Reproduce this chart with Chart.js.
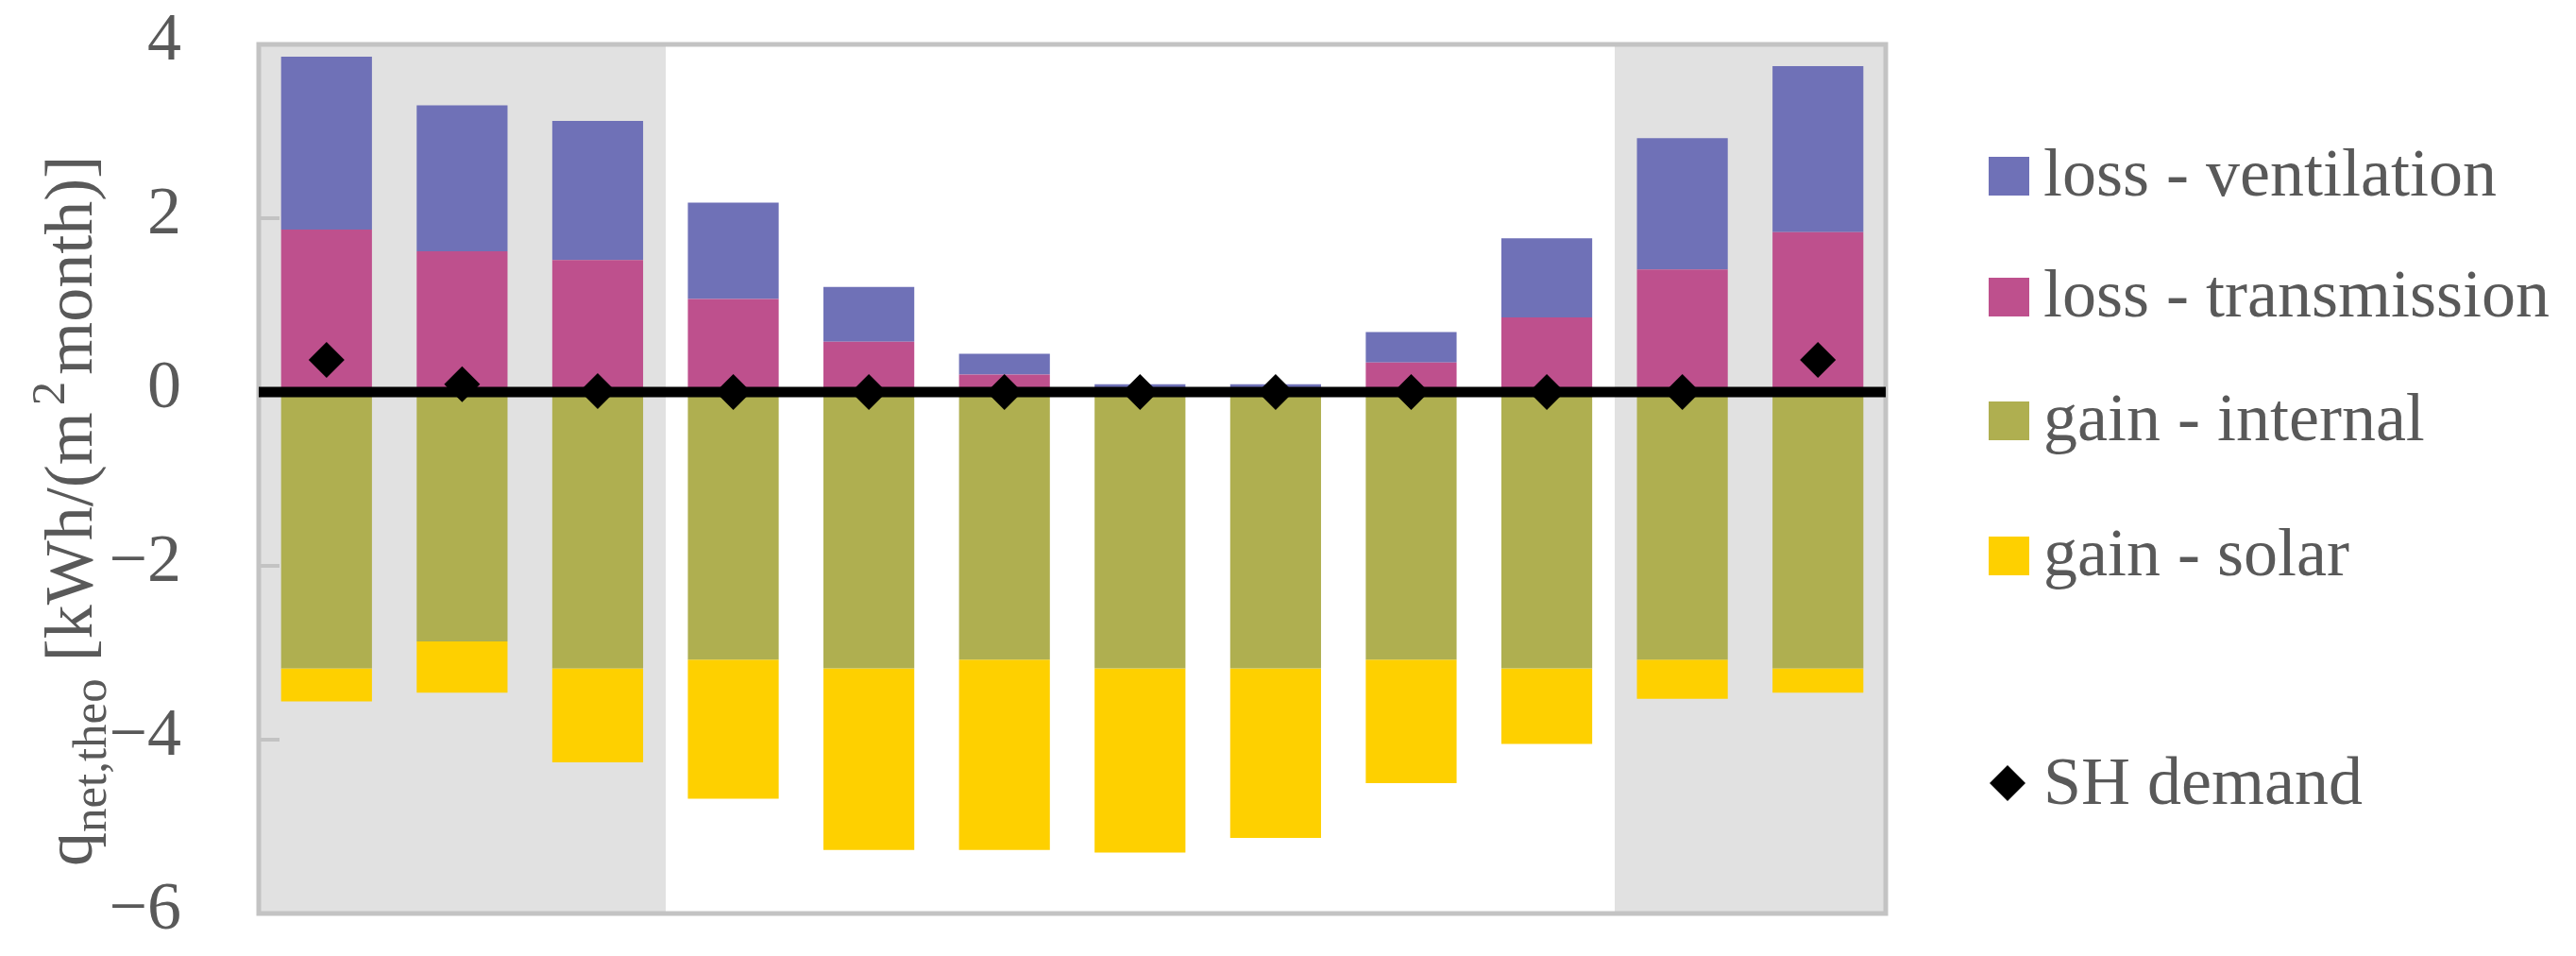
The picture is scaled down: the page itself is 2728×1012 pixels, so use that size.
<!DOCTYPE html>
<html>
<head>
<meta charset="utf-8">
<title>Monthly heat balance</title>
<script src="https://cdn.jsdelivr.net/npm/chart.js@4.4.1/dist/chart.umd.min.js"></script>
<style>
  html, body { margin: 0; padding: 0; background: #fff; }
  #wrap { position: relative; width: 2728px; height: 1012px; }
</style>
</head>
<body>
<div id="wrap"><canvas id="balanceChart" width="2728" height="1012"></canvas></div>
<script>
// monthly values, kWh/(m2 month)
const months = ['Jan', 'Feb', 'Mar', 'Apr', 'May', 'Jun', 'Jul', 'Aug', 'Sep', 'Oct', 'Nov', 'Dec'];
const lossTransmission = [1.87, 1.62, 1.52, 1.07, 0.58, 0.20, 0.04, 0.04, 0.34, 0.86, 1.41, 1.84];
const lossVentilation = [1.99, 1.68, 1.60, 1.11, 0.63, 0.24, 0.05, 0.05, 0.35, 0.91, 1.51, 1.91];
const gainInternal = [-3.18, -2.87, -3.18, -3.08, -3.18, -3.08, -3.18, -3.18, -3.08, -3.18, -3.08, -3.18];
const gainSolar = [-0.38, -0.59, -1.08, -1.60, -2.09, -2.19, -2.12, -1.95, -1.42, -0.87, -0.45, -0.28];
const shDemand = [0.37, 0.09, 0.01, 0, 0, 0, 0, 0, 0, 0, 0, 0.37];
const heatingSeason = ['Jan', 'Feb', 'Mar', 'Nov', 'Dec'];

const yMin = -6, yMax = 4, yStep = 2;
const yTitle = [
    { t: 'q' },
    { t: 'net,theo', sub: true },
    { t: ' [kWh/(m' },
    { t: '2', sup: true },
    { t: 'month)]' }
];

const legendItems = [
    { label: 'loss - ventilation', color: '#6f71b7' },
    { label: 'loss - transmission', color: '#be508d' },
    { label: 'gain - internal', color: '#afaf50' },
    { label: 'gain - solar', color: '#fed000' },
    { label: 'SH demand', color: '#000000', diamond: true }
];

const textColor = '#595959';
const frameColor = '#c3c3c3';
const serif = "'Liberation Serif', 'DejaVu Serif', serif";

// grey background behind the heating season months, frame, y ticks
const seasonBands = {
    id: 'seasonBands',
    beforeDatasetsDraw(chart) {
        const { ctx, chartArea, scales } = chart;
        const half = chartArea.width / months.length / 2;
        ctx.save();
        ctx.fillStyle = '#e1e1e1';
        months.forEach((m, i) => {
            if (!heatingSeason.includes(m)) return;
            const c = scales.x.getPixelForValue(i);
            const x0 = Math.round(c - half), x1 = Math.round(c + half);
            ctx.fillRect(x0, chartArea.top, x1 - x0, chartArea.height);
        });
        ctx.strokeStyle = frameColor;
        ctx.lineWidth = 5;
        ctx.strokeRect(chartArea.left, chartArea.top, chartArea.width, chartArea.height);
        ctx.lineWidth = 4;
        ctx.fillStyle = textColor;
        ctx.font = '72px ' + serif;
        ctx.textAlign = 'right';
        ctx.textBaseline = 'middle';
        scales.y.ticks.forEach(t => {
            const y = scales.y.getPixelForValue(t.value);
            ctx.beginPath();
            ctx.moveTo(chartArea.left, y);
            ctx.lineTo(chartArea.left + 22, y);
            ctx.stroke();
            const lbl = t.value < 0 ? '\u2212' + Math.abs(t.value) : String(t.value);
            ctx.fillText(lbl, 192, y - 3);
        });
        ctx.restore();
    },
    afterDatasetDraw(chart, args) {
        // heavy zero line goes over the bars, under the diamonds
        if (args.index !== 0) return;
        const { ctx, chartArea, scales } = chart;
        const y = scales.y.getPixelForValue(0);
        ctx.save();
        ctx.strokeStyle = '#000';
        ctx.lineWidth = 11;
        ctx.beginPath();
        ctx.moveTo(chartArea.left, y);
        ctx.lineTo(chartArea.right, y);
        ctx.stroke();
        ctx.restore();
    }
};

// rotated axis title with subscript and superscript
const axisTitle = {
    id: 'axisTitle',
    afterDraw(chart) {
        const ctx = chart.ctx;
        const size = 72, small = 51;
        const parts = yTitle.map(p => {
            const fs = (p.sub || p.sup) ? small : size;
            ctx.font = fs + 'px ' + serif;
            const gap = p.sup ? 7 : 0;
            return { ...p, fs, w: ctx.measureText(p.t).width + gap * 2, gap };
        });
        const total = parts.reduce((s, p) => s + p.w, 0);
        ctx.save();
        ctx.translate(97, 541);
        ctx.rotate(-Math.PI / 2);
        ctx.fillStyle = textColor;
        ctx.textBaseline = 'alphabetic';
        ctx.textAlign = 'left';
        let x = -total / 2;
        parts.forEach(p => {
            ctx.font = p.fs + 'px ' + serif;
            let dy = 0;
            if (p.sub) dy = 15;
            if (p.sup) dy = -29;
            ctx.fillText(p.t, x + p.gap, dy);
            x += p.w;
        });
        ctx.restore();
    }
};

// legend on the right
const sideLegend = {
    id: 'sideLegend',
    afterDraw(chart) {
        const ctx = chart.ctx;
        const baselines = [207, 335, 466, 609, 851];
        ctx.save();
        ctx.font = '72px ' + serif;
        ctx.textBaseline = 'alphabetic';
        legendItems.forEach((item, i) => {
            const b = baselines[i];
            ctx.fillStyle = item.color;
            if (item.diamond) {
                const cx = 2126, cy = b - 22, r = 19;
                ctx.beginPath();
                ctx.moveTo(cx, cy - r);
                ctx.lineTo(cx + r, cy);
                ctx.lineTo(cx, cy + r);
                ctx.lineTo(cx - r, cy);
                ctx.closePath();
                ctx.fill();
            } else {
                ctx.fillRect(2106, b - 41, 43, 41);
            }
            ctx.fillStyle = textColor;
            ctx.fillText(item.label, 2164, b);
        });
        ctx.restore();
    }
};

const ctx = document.getElementById('balanceChart').getContext('2d');
new Chart(ctx, {
    type: 'bar',
    data: {
        labels: months,
        datasets: [
            { label: 'loss - transmission', data: lossTransmission, backgroundColor: '#be508d', order: 1 },
            { label: 'loss - ventilation', data: lossVentilation, backgroundColor: '#6f71b7', order: 1 },
            { label: 'gain - internal', data: gainInternal, backgroundColor: '#afaf50', order: 1 },
            { label: 'gain - solar', data: gainSolar, backgroundColor: '#fed000', order: 1 },
            {
                type: 'line',
                label: 'SH demand',
                data: shDemand,
                showLine: false,
                pointStyle: 'rectRot',
                pointRadius: 19,
                pointHoverRadius: 19,
                pointBackgroundColor: '#000',
                pointBorderWidth: 0,
                borderColor: '#000',
                order: 0,
                clip: false
            }
        ]
    },
    options: {
        responsive: false,
        animation: false,
        devicePixelRatio: 1,
        layout: { padding: { top: 47, bottom: 45, left: 0, right: 731 } },
        datasets: { bar: { barPercentage: 0.67, categoryPercentage: 1, borderWidth: 0 } },
        scales: {
            x: { display: false, stacked: true },
            y: {
                stacked: true,
                min: yMin,
                max: yMax,
                afterFit: s => { s.width = 274; },
                grid: { display: false, drawTicks: false },
                border: { display: false },
                ticks: { stepSize: yStep, display: false }
            }
        },
        plugins: {
            legend: { display: false },
            tooltip: { enabled: false }
        }
    },
    plugins: [seasonBands, axisTitle, sideLegend]
});
</script>
</body>
</html>
